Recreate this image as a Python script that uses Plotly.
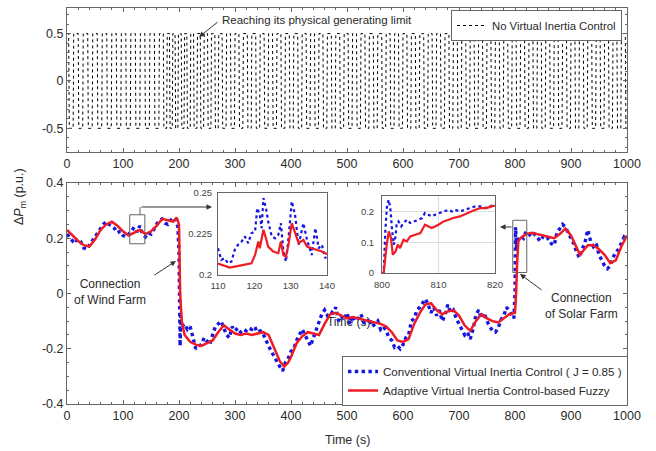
import plotly.graph_objects as go

W, H = 656, 451
def px(x): return x / W
def py(y): return 1 - y / H

# ---------------- data ----------------
# top panel: switching instants of the saturated oscillation (s), limit (p.u.)
top_switch_t = [3, 11, 20, 28, 37, 45, 54, 62, 71, 79, 88, 96, 105, 113, 122, 130, 139, 147,
                156, 164, 172, 178, 183, 188, 193, 198, 204, 209, 214, 220, 226, 232, 238, 244,
                251, 257, 264, 270, 277, 284, 292, 299, 307, 314, 322, 329, 337, 344, 352, 359,
                367, 374, 382, 389, 397, 404, 412, 419, 427, 434, 442, 449, 457, 464, 472, 479,
                487, 494, 502, 509, 517, 524, 532, 539, 547, 554, 562, 569, 577, 584, 592, 599,
                607, 614, 622, 629, 637, 644, 652, 659, 667, 674, 682, 689, 697, 704, 712, 719,
                727, 734, 742, 749, 757, 764, 772, 779, 787, 794, 802, 809, 817, 824, 832, 839,
                847, 854, 862, 869, 877, 884, 892, 899, 907, 914, 922, 929, 937, 944, 952, 959,
                967, 974, 982, 989, 997]
top_limit = 0.5
top_ramp = 1.0

red_t = [0, 10, 20, 30, 40, 50, 60, 70, 80, 90, 100, 110, 120, 130, 140, 150, 160, 170, 180,
         190, 196, 200, 202, 205, 210, 220, 230, 240, 250, 260, 270, 280, 290, 300, 310, 320,
         330, 340, 350, 360, 370, 380, 388, 395, 400, 410, 420, 430, 440, 450, 460, 470, 480,
         490, 500, 510, 520, 530, 540, 550, 560, 570, 580, 590, 600, 610, 620, 630, 640, 650,
         660, 670, 680, 690, 700, 710, 720, 730, 740, 750, 760, 770, 780, 790, 800, 802, 804,
         806, 810, 820, 830, 840, 850, 860, 870, 880, 890, 900, 910, 916, 920, 930, 940, 950,
         960, 970, 980, 990, 1000]
red_v = [0.23, 0.21, 0.19, 0.175, 0.17, 0.195, 0.23, 0.25, 0.26, 0.245, 0.225, 0.21, 0.22, 0.23,
         0.215, 0.225, 0.245, 0.27, 0.265, 0.26, 0.275, 0.25, 0.0, -0.10, -0.15, -0.175, -0.185,
         -0.19, -0.18, -0.17, -0.14, -0.115, -0.13, -0.145, -0.15, -0.145, -0.15, -0.145, -0.14,
         -0.15, -0.2, -0.245, -0.265, -0.25, -0.23, -0.18, -0.155, -0.14, -0.145, -0.15, -0.11,
         -0.075, -0.07, -0.08, -0.09, -0.085, -0.09, -0.095, -0.1, -0.105, -0.11, -0.12, -0.14,
         -0.17, -0.175, -0.165, -0.11, -0.07, -0.04, -0.035, -0.06, -0.075, -0.065, -0.06, -0.08,
         -0.115, -0.135, -0.1, -0.075, -0.09, -0.1, -0.105, -0.09, -0.075, -0.07, 0.0, 0.12, 0.19,
         0.2, 0.215, 0.22, 0.215, 0.21, 0.205, 0.2, 0.215, 0.235, 0.21, 0.165, 0.14, 0.15, 0.175,
         0.175, 0.16, 0.14, 0.11, 0.12, 0.17, 0.21]

blue_t = [0, 5, 10, 15, 20, 25, 30, 35, 40, 45, 50, 55, 60, 65, 70, 75, 80, 85, 90, 95, 100,
          105, 110, 115, 120, 125, 130, 135, 140, 145, 150, 155, 160, 165, 170, 175, 180, 185,
          190, 195, 198, 200, 201, 202, 203, 205, 210, 215, 220, 225, 230, 235, 240, 245, 250,
          255, 260, 265, 270, 275, 280, 285, 290, 295, 300, 305, 310, 315, 320, 325, 330, 335,
          340, 345, 350, 355, 360, 365, 370, 375, 380, 385, 390, 395, 400, 405, 410, 415, 420,
          425, 430, 435, 440, 445, 450, 455, 460, 465, 470, 475, 480, 485, 490, 495, 500, 505,
          510, 515, 520, 525, 530, 535, 540, 545, 550, 555, 560, 565, 570, 575, 580, 585, 590,
          595, 600, 605, 610, 615, 620, 625, 630, 635, 640, 645, 650, 655, 660, 665, 670, 675,
          680, 685, 690, 695, 700, 705, 710, 715, 720, 725, 730, 735, 740, 745, 750, 755, 760,
          765, 770, 775, 780, 785, 790, 795, 798, 800, 801, 803, 805, 810, 815, 820, 825, 830,
          835, 840, 845, 850, 855, 860, 865, 870, 875, 880, 885, 890, 895, 900, 905, 910, 915,
          920, 925, 930, 935, 940, 945, 950, 955, 960, 965, 970, 975, 980, 985, 990, 995, 1000]
blue_v = [0.215, 0.2, 0.19, 0.2, 0.18, 0.185, 0.165, 0.16, 0.175, 0.19, 0.21, 0.225, 0.24, 0.25,
          0.26, 0.25, 0.245, 0.235, 0.22, 0.225, 0.21, 0.205, 0.215, 0.225, 0.24, 0.222, 0.245,
          0.215, 0.205, 0.22, 0.215, 0.235, 0.25, 0.265, 0.27, 0.255, 0.25, 0.265, 0.275, 0.265,
          0.24, 0.15, -0.05, -0.19, -0.08, -0.12, -0.11, -0.13, -0.12, -0.16, -0.2, -0.19, -0.185,
          -0.16, -0.175, -0.185, -0.15, -0.12, -0.11, -0.1, -0.125, -0.15, -0.16, -0.12, -0.135,
          -0.125, -0.14, -0.13, -0.135, -0.125, -0.13, -0.12, -0.14, -0.135, -0.145, -0.17, -0.19,
          -0.21, -0.23, -0.25, -0.265, -0.28, -0.25, -0.235, -0.21, -0.2, -0.17, -0.15, -0.13,
          -0.15, -0.17, -0.19, -0.16, -0.13, -0.1, -0.075, -0.06, -0.08, -0.065, -0.07, -0.05,
          -0.1, -0.085, -0.095, -0.07, -0.11, -0.08, -0.1, -0.09, -0.075, -0.105, -0.11, -0.09,
          -0.12, -0.11, -0.1, -0.13, -0.12, -0.135, -0.16, -0.17, -0.195, -0.19, -0.2, -0.185,
          -0.16, -0.15, -0.1, -0.09, -0.06, -0.05, -0.035, -0.02, -0.04, -0.07, -0.05, -0.08,
          -0.06, -0.1, -0.08, -0.04, -0.07, -0.06, -0.09, -0.11, -0.13, -0.15, -0.14, -0.165,
          -0.13, -0.08, -0.06, -0.09, -0.07, -0.1, -0.12, -0.135, -0.14, -0.125, -0.095, -0.08,
          -0.05, -0.065, -0.08, -0.09, 0.0, 0.24, 0.16, 0.19, 0.21, 0.2, 0.225, 0.215, 0.205,
          0.215, 0.2, 0.19, 0.205, 0.195, 0.2, 0.18, 0.175, 0.22, 0.235, 0.25, 0.24, 0.22, 0.2,
          0.18, 0.15, 0.13, 0.16, 0.185, 0.23, 0.19, 0.17, 0.18, 0.14, 0.12, 0.1, 0.09, 0.1, 0.13,
          0.15, 0.16, 0.18, 0.205, 0.2]

# inset 1 (110-140 s)
red1_t = [110, 113.2, 116, 117.8, 119.2, 120.2, 121.1, 121.5, 122.5, 123.2, 123.8, 125.2, 126.6,
          127.3, 128, 128.7, 129.4, 130.3, 131.2, 132.2, 133.5, 134.5, 135.8, 137.2, 138.6, 140]
red1_v = [0.207, 0.2045, 0.2057, 0.2065, 0.2071, 0.2122, 0.2204, 0.2163, 0.2276, 0.2224, 0.2173,
          0.2143, 0.2133, 0.2204, 0.2122, 0.2112, 0.2184, 0.2316, 0.2255, 0.2194, 0.2214, 0.2173,
          0.2163, 0.2153, 0.2143, 0.2127]
blue1_t = [110, 110.9, 111.8, 112.8, 113.7, 114.6, 115.5, 116.5, 117.4, 118.3, 119.2, 120.2,
           120.8, 121.5, 122, 122.5, 123.2, 123.8, 124.8, 125.7, 126.6, 127.3, 128, 128.7, 129.4,
           130.3, 131.2, 132.2, 133.5, 134.5, 135.8, 136.8, 137.7, 138.6, 139.5, 140]
blue1_v = [0.2163, 0.2092, 0.2102, 0.2071, 0.2082, 0.2153, 0.2184, 0.2204, 0.2235, 0.2194,
           0.2255, 0.2265, 0.2408, 0.2367, 0.2286, 0.2469, 0.2408, 0.2327, 0.2235, 0.2224,
           0.2245, 0.2316, 0.2143, 0.2082, 0.2224, 0.2449, 0.2367, 0.2184, 0.2316, 0.2214,
           0.2122, 0.2286, 0.2163, 0.2184, 0.2102, 0.2122]

# inset 2 (800-820 s)
red2_t = [800, 800.3, 800.8, 801.2, 801.6, 801.9, 802.4, 802.8, 803.2, 803.8, 804.4, 805, 805.9,
          806.8, 807.6, 808.2, 808.8, 810, 810.9, 811.8, 812.6, 813.8, 815, 816.2, 817.4, 818.5,
          819.4, 820]
red2_v = [0, 0, 0.0865, 0.135, 0.1135, 0.0595, 0.0703, 0.0919, 0.0811, 0.1081, 0.1027, 0.1189,
          0.1243, 0.1297, 0.1568, 0.1514, 0.1459, 0.1568, 0.1676, 0.173, 0.1784, 0.1838, 0.1946,
          0.2032, 0.2108, 0.2108, 0.2162, 0.2184]
blue2_t = [800, 800.3, 800.6, 800.9, 801.2, 801.5, 801.8, 802.1, 802.4, 802.6, 802.9, 803.4,
           803.8, 804.4, 805, 805.9, 806.5, 807.1, 807.6, 808.2, 808.8, 809.4, 810.3, 811.2,
           811.8, 812.4, 812.9, 813.8, 814.7, 815.6, 816.5, 817.4, 818.2, 819.1, 820]
blue2_v = [0, 0, 0.1405, 0.2216, 0.2378, 0.2054, 0.1351, 0.0919, 0.1189, 0.1622, 0.1676, 0.1514,
           0.1622, 0.173, 0.1622, 0.1676, 0.173, 0.1784, 0.1946, 0.1892, 0.1838, 0.1892, 0.1946,
           0.2, 0.2054, 0.2, 0.2054, 0.2, 0.2054, 0.2108, 0.2162, 0.2162, 0.2108, 0.2162, 0.2216]

x_ticks = [0, 100, 200, 300, 400, 500, 600, 700, 800, 900, 1000]

# build the saturated trace from the switching instants
top_x, top_y = [0], [top_limit]
lev = top_limit
for t in top_switch_t:
    top_x += [t, t + top_ramp]
    top_y += [lev, -lev]
    lev = -lev
top_x.append(1000); top_y.append(lev)

BLUE = "#1515e0"
RED = "#ee1c25"
FONT = "Liberation Sans, Arial, sans-serif"
TXT = "#2a2a2a"
LINE = "#666666"

fig = go.Figure()

# stray label sitting beneath the data
fig.add_trace(go.Scatter(x=[503], y=[-0.105], mode="text", text=["Time (s)"],
                         textfont=dict(size=12, color=TXT, family=FONT),
                         xaxis="x2", yaxis="y2", showlegend=False, hoverinfo="skip"))

fig.add_trace(go.Scatter(x=top_x, y=top_y, mode="lines", name="No Virtual Inertia Control",
                         line=dict(color="black", width=1, dash="dot"),
                         xaxis="x", yaxis="y", legend="legend"))

fig.add_trace(go.Scatter(x=blue_t, y=blue_v, mode="lines",
                         name="Conventional Virtual Inertia Control ( J = 0.85 )",
                         line=dict(color=BLUE, width=3.4, dash="dot"),
                         xaxis="x2", yaxis="y2", legend="legend2"))
fig.add_trace(go.Scatter(x=red_t, y=red_v, mode="lines",
                         name="Adaptive Virtual Inertia Control-based Fuzzy",
                         line=dict(color=RED, width=2.5),
                         xaxis="x2", yaxis="y2", legend="legend2"))

fig.add_trace(go.Scatter(x=blue1_t, y=blue1_v, mode="lines", line=dict(color=BLUE, width=2.2, dash="dot"),
                         xaxis="x3", yaxis="y3", showlegend=False))
fig.add_trace(go.Scatter(x=red1_t, y=red1_v, mode="lines", line=dict(color=RED, width=2.2),
                         xaxis="x3", yaxis="y3", showlegend=False))
fig.add_trace(go.Scatter(x=blue2_t, y=blue2_v, mode="lines", line=dict(color=BLUE, width=2.2, dash="dot"),
                         xaxis="x4", yaxis="y4", showlegend=False))
fig.add_trace(go.Scatter(x=red2_t, y=red2_v, mode="lines", line=dict(color=RED, width=2.2),
                         xaxis="x4", yaxis="y4", showlegend=False))

main_dom_x = [px(67), px(627)]
common_ax = dict(showline=True, linecolor=LINE, linewidth=1, mirror="ticks", ticks="inside",
                 ticklen=4, tickcolor=LINE, zeroline=False, showgrid=False, automargin=False,
                 tickfont=dict(size=12.5, color=TXT, family=FONT))
inset_ax = dict(showline=True, linecolor=LINE, mirror=True, ticks="", zeroline=False,
                automargin=False, tickfont=dict(size=9.5, color="#444", family=FONT))

fig.update_layout(
    width=W, height=H, margin=dict(l=0, r=0, t=0, b=0, autoexpand=False),
    paper_bgcolor="white", plot_bgcolor="white",
    font=dict(family=FONT, color=TXT),
    xaxis=dict(domain=main_dom_x, range=[0, 1000], tickvals=x_ticks, anchor="y",
               minor=dict(dtick=20, ticks="inside", ticklen=2, tickcolor=LINE), **common_ax),
    yaxis=dict(domain=[py(152), py(8)], range=[-0.75, 0.77], tickvals=[-0.5, 0, 0.5],
               ticktext=["-0.5", "0", "0.5"], anchor="x",
               minor=dict(dtick=0.1, ticks="inside", ticklen=2, tickcolor=LINE), **common_ax),
    xaxis2=dict(domain=main_dom_x, range=[0, 1000], tickvals=x_ticks, anchor="y2",
                minor=dict(dtick=20, ticks="inside", ticklen=2, tickcolor=LINE), **common_ax),
    yaxis2=dict(domain=[py(404), py(183)], range=[-0.4, 0.4], tickvals=[-0.4, -0.2, 0, 0.2, 0.4],
                ticktext=["-0.4", "-0.2", "0", "0.2", "0.4"], anchor="x2",
                minor=dict(dtick=0.05, ticks="inside", ticklen=2, tickcolor=LINE), **common_ax),
    xaxis3=dict(domain=[px(218), px(327)], range=[110, 140], tickvals=[110, 120, 130, 140], anchor="y3",
                showgrid=False, ticklabelstandoff=2, **inset_ax),
    yaxis3=dict(domain=[py(275), py(193)], range=[0.2, 0.25], tickvals=[0.2, 0.225, 0.25],
                ticktext=["0.2", "0.225", "0.25"], anchor="x3", showgrid=False,
                ticklabelstandoff=3, **inset_ax),
    xaxis4=dict(domain=[px(382), px(495)], range=[800, 820], tickvals=[800, 810, 820], anchor="y4",
                showgrid=True, gridcolor="#dddddd", ticklabelstandoff=3, **inset_ax),
    yaxis4=dict(domain=[py(273), py(196)], range=[0, 0.25], tickvals=[0, 0.1, 0.2],
                ticktext=["0", "0.1", "0.2"], anchor="x4",
                showgrid=True, gridcolor="#dddddd", ticklabelstandoff=5, **inset_ax),
    legend=dict(x=px(622), xanchor="right", y=py(10), yanchor="top", bgcolor="white",
                bordercolor=LINE, borderwidth=1, font=dict(size=11.3, color=TXT, family=FONT),
                itemwidth=30, tracegroupgap=0),
    legend2=dict(x=px(342), xanchor="left", y=py(356), yanchor="top", bgcolor="white",
                 bordercolor=LINE, borderwidth=1, font=dict(size=11.6, color=TXT, family=FONT),
                 itemwidth=30, tracegroupgap=0),
)

# zoom boxes on the main panel
fig.add_shape(type="rect", xref="x2", yref="y2", x0=112, x1=139, y0=0.18, y1=0.285,
              line=dict(color=LINE, width=1))
fig.add_shape(type="rect", xref="x2", yref="y2", x0=796, x1=821, y0=0.076, y1=0.265,
              line=dict(color=LINE, width=1))
fig.add_shape(type="line", xref="paper", yref="paper", x0=px(140), x1=px(140), y0=py(215), y1=py(207),
              line=dict(color=LINE, width=1))

ann = []
def arrow(hx, hy, tx, ty):
    ann.append(dict(xref="paper", yref="paper", x=px(hx), y=py(hy), ax=tx - hx, ay=ty - hy,
                    text="", showarrow=True, arrowhead=2, arrowsize=1.1, arrowwidth=1,
                    arrowcolor="#333333"))

arrow(212, 207, 140, 207)
arrow(500, 227, 513, 227)
arrow(199, 37, 219, 21)
arrow(176, 261, 153, 276)
arrow(520, 274, 543, 291)

ann += [
    dict(xref="paper", yref="paper", x=px(220), y=py(20), xanchor="left", yanchor="middle",
         text="Reaching its physical generating limit", showarrow=False,
         font=dict(size=11.5, color=TXT, family=FONT)),
    dict(xref="paper", yref="paper", x=px(110), y=py(292), xanchor="center", yanchor="middle",
         text="Connection<br>of Wind Farm", showarrow=False, align="center",
         font=dict(size=12, color=TXT, family=FONT)),
    dict(xref="paper", yref="paper", x=px(581), y=py(306), xanchor="center", yanchor="middle",
         text="Connection<br>of Solar Farm", showarrow=False, align="center",
         font=dict(size=12, color=TXT, family=FONT)),
    dict(xref="paper", yref="paper", x=px(347), y=py(440), xanchor="center", yanchor="middle",
         text="Time (s)", showarrow=False, font=dict(size=12.5, color=TXT, family=FONT)),
    dict(xref="paper", yref="paper", x=px(20), y=py(197), xanchor="center", yanchor="middle",
         text="Δ<i>P</i><sub>m</sub> (p.u.)", textangle=-90, showarrow=False,
         font=dict(size=12.5, color=TXT, family=FONT)),
]
fig.update_layout(annotations=ann)

fig.write_html("out.html")
